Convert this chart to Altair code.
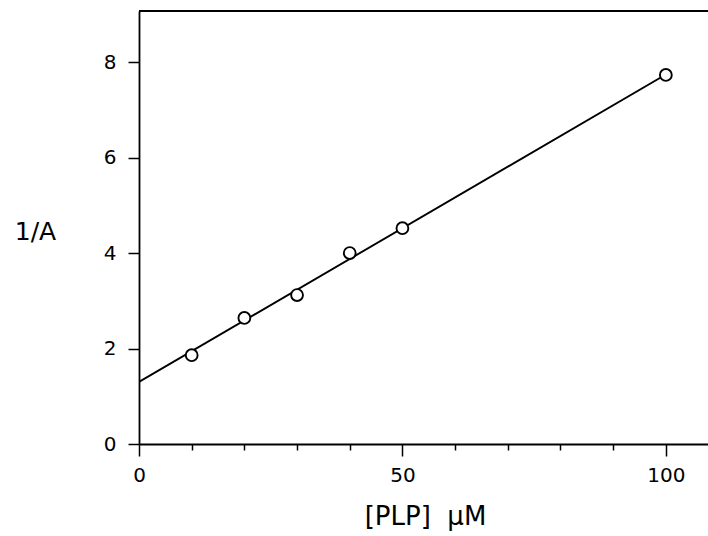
import altair as alt
import pandas as pd

plp = [10, 20, 30, 40, 50, 100]
inv_a = [1.86, 2.64, 3.12, 4.00, 4.52, 7.73]
fit_x = [0, 100]
fit_y = [1.30, 7.74]

pts = pd.DataFrame({"x": plp, "y": inv_a})
fit = pd.DataFrame({"x": fit_x, "y": fit_y})

FONT = "DejaVu Sans"
xscale = alt.Scale(domain=[0, 108], nice=False, zero=False)
yscale = alt.Scale(domain=[0, 9.07], nice=False, zero=False)

xaxis = alt.Axis(
    values=list(range(0, 101, 10)),
    labelExpr="datum.value % 50 === 0 ? datum.label : ''",
    tickSize=alt.expr("datum.value % 50 === 0 ? 12 : 6"),
    grid=False, domainColor="black", tickColor="black", domainWidth=1.8, tickWidth=1.5,
    labelFont=FONT, labelFontSize=20, labelColor="black", labelPadding=9, labelFlush=False,
    title="[PLP]\u00a0\u00a0\u03bcM", titleFont=FONT, titleFontSize=26, titleFontWeight="normal",
    titleColor="black", titleBaseline="alphabetic", titleY=80, titleX=286, titleAlign="center",
)
yaxis = alt.Axis(
    values=[0, 2, 4, 6, 8],
    tickSize=11, grid=False, domainColor="black", tickColor="black", domainWidth=1.8, tickWidth=1.5,
    labelFont=FONT, labelFontSize=20, labelColor="black", labelPadding=12, labelFlush=False,
    title="1/A", titleFont=FONT, titleFontSize=25, titleFontWeight="normal", titleColor="black",
    titleAngle=0, titleX=-104, titleY=228, titleAlign="center", titleBaseline="alphabetic",
)

line = alt.Chart(fit).mark_line(color="black", strokeWidth=1.9, clip=True).encode(
    x=alt.X("x:Q", scale=xscale, axis=xaxis),
    y=alt.Y("y:Q", scale=yscale, axis=yaxis),
)
circles = alt.Chart(pts).mark_point(shape="circle", size=140, filled=True, fill="white",
                                    stroke="black", strokeWidth=1.9, opacity=1).encode(
    x="x:Q", y="y:Q",
)
top = alt.Chart(fit).mark_rule(color="black", strokeWidth=1.8).encode(
    x=alt.value(0), x2=alt.value(580), y=alt.value(0)
)

chart = alt.layer(line, circles, top).properties(
    width=569, height=433,
    padding={"left": 139, "top": 11, "right": 0, "bottom": 92},
    autosize=alt.AutoSizeParams(type="none"),
).configure_view(stroke=None).configure(background="white")

chart.save("out.html", embed_options={"renderer": "svg", "actions": False})
